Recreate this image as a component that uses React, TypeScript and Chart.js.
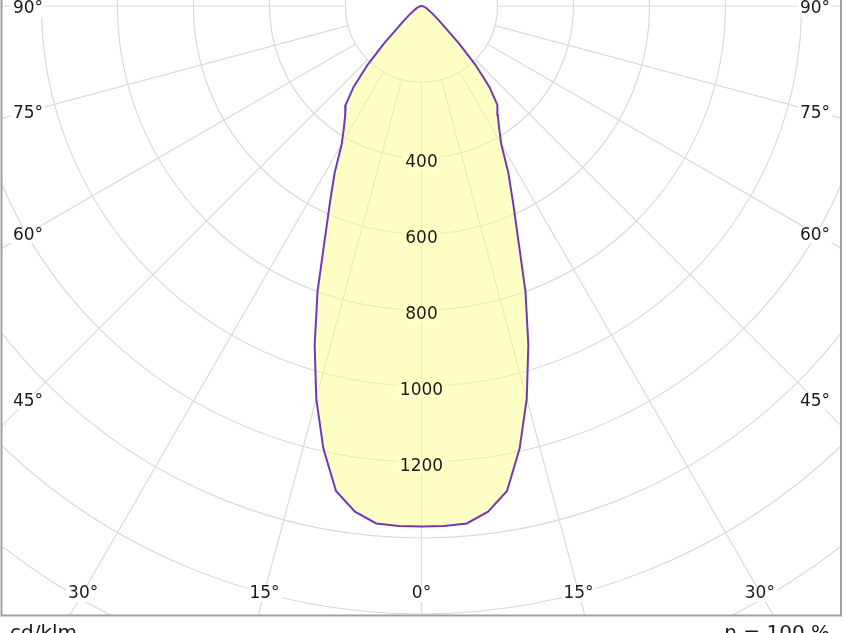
import React, { useEffect, useRef } from "react";
import { Chart, registerables } from "chart.js";

Chart.register(...registerables);

// Luminous intensity (cd/klm) vs angle from nadir (degrees), symmetric C-plane
const angles = [0, 2.5, 5, 7.5, 10, 12.5, 15, 17.5, 20, 22.5, 25, 27.5, 30, 32.5, 35, 37.5, 40, 42.5, 45, 50, 55, 60, 65, 70, 75, 80, 85, 90];
const intensity = [1370, 1370, 1367, 1342, 1296, 1193, 1070, 935, 800, 665, 570, 495, 420, 380, 350, 328, 278, 210, 140, 62, 36, 22, 15, 10, 6, 4, 2, 0];

const ringValues = [200, 400, 600, 800, 1000, 1200, 1400, 1600, 1800];
const ringLabels = [400, 600, 800, 1000, 1200];
const spokeAngles = [-90, -75, -60, -45, -30, -15, 0, 15, 30, 45, 60, 75, 90];
const unitLabel = "cd/klm";
const efficiencyLabel = "η = 100 %";

const X_HALF = 1106.6;
const Y_MAX = 15.8;
const Y_MIN = -1605.3;

const FONT = "17px 'DejaVu Sans'";
const FOOT_FONT = "20px 'DejaVu Sans'";
const rad = (d: number) => (d * Math.PI) / 180;

const polarPlugin = {
  id: "polarGrid",
  beforeDatasetsDraw(chart: any) {
    const { ctx, chartArea: a, scales } = chart;
    const xs = scales.x, ys = scales.y;
    const cx = xs.getPixelForValue(0);
    const cy = ys.getPixelForValue(0);
    ctx.save();
    ctx.beginPath();
    ctx.rect(a.left, a.top, a.right - a.left, a.bottom - a.top);
    ctx.clip();
    ctx.strokeStyle = "#dadada";
    ctx.lineWidth = 1.2;
    for (const r of ringValues) {
      const rp = xs.getPixelForValue(r) - cx;
      ctx.beginPath();
      ctx.arc(cx, cy, rp, 0, Math.PI * 2);
      ctx.stroke();
    }
    for (const d of spokeAngles) {
      const s = Math.sin(rad(d)), c = Math.cos(rad(d));
      const r0 = ringValues[0], r1 = 5000;
      ctx.beginPath();
      ctx.moveTo(xs.getPixelForValue(r0 * s), ys.getPixelForValue(-r0 * c));
      ctx.lineTo(xs.getPixelForValue(r1 * s), ys.getPixelForValue(-r1 * c));
      ctx.stroke();
    }
    ctx.restore();
  },
  afterDatasetsDraw(chart: any) {
    const { ctx, chartArea: a, scales } = chart;
    const xs = scales.x, ys = scales.y;
    const cx = xs.getPixelForValue(0);
    const cy = ys.getPixelForValue(0);
    ctx.save();
    ctx.font = FONT;
    ctx.textAlign = "center";
    ctx.textBaseline = "middle";
    // ring labels along 0° axis
    for (const r of ringLabels) {
      const py = ys.getPixelForValue(-r) + 5;
      const w = ctx.measureText(String(r)).width;
      ctx.fillStyle = "rgb(255,255,198)";
      ctx.fillRect(cx - w / 2 - 2, py - 8, w + 4, 15);
      ctx.fillStyle = "#1a1a1a";
      ctx.fillText(String(r), cx, py);
    }
    // angle labels
    const left = a.left + 27, right = a.right - 26, bottom = a.bottom - 24;
    const half = Math.min(cx - left, right - cx);
    for (const d of spokeAngles) {
      const s = Math.sin(rad(Math.abs(d))), c = Math.cos(rad(Math.abs(d)));
      let t = Infinity;
      if (c > 1e-6) t = Math.min(t, (bottom - cy) / c);
      if (s > 1e-6) t = Math.min(t, half / s);
      const px = cx + Math.sign(d) * t * s;
      const py = Math.max(cy + t * c, a.top + 7) + 2;
      const txt = Math.abs(d) + "°";
      const w = ctx.measureText(txt).width;
      ctx.fillStyle = "#ffffff";
      ctx.fillRect(px - w / 2 - 2, py - 8, w + 4, 16);
      ctx.fillStyle = "#1a1a1a";
      ctx.fillText(txt, px, py);
    }
    // frame
    ctx.strokeStyle = "#a0a0a0";
    ctx.lineWidth = 2;
    ctx.beginPath();
    ctx.moveTo(a.left + 0.5, a.top);
    ctx.lineTo(a.left + 0.5, a.bottom - 0.5);
    ctx.lineTo(a.right - 1, a.bottom - 0.5);
    ctx.lineTo(a.right - 1, a.top);
    ctx.stroke();
    // bottom texts
    ctx.font = FOOT_FONT;
    ctx.fillStyle = "#1a1a1a";
    ctx.textBaseline = "alphabetic";
    ctx.textAlign = "left";
    ctx.fillText(unitLabel, 10, 639);
    ctx.textAlign = "right";
    ctx.fillText(efficiencyLabel, 830, 639);
    ctx.restore();
  },
};

export default function App() {
  const ref = useRef<HTMLCanvasElement>(null);
  useEffect(() => {
    document.body.style.margin = "0";
    const canvas = ref.current!;
    const pts: { x: number; y: number }[] = [];
    for (let i = angles.length - 1; i >= 0; i--) {
      const t = rad(angles[i]);
      pts.push({ x: -intensity[i] * Math.sin(t), y: -intensity[i] * Math.cos(t) });
    }
    for (let i = 1; i < angles.length; i++) {
      const t = rad(angles[i]);
      pts.push({ x: intensity[i] * Math.sin(t), y: -intensity[i] * Math.cos(t) });
    }
    const chart = new Chart(canvas, {
      type: "scatter",
      data: {
        datasets: [
          {
            data: pts,
            showLine: true,
            fill: "shape" as any,
            tension: 0,
            pointRadius: 0,
            borderColor: "#7238b8",
            borderWidth: 2,
            backgroundColor: "rgba(255,255,150,0.55)",
          },
        ],
      },
      options: {
        animation: false,
        responsive: false,
        devicePixelRatio: 1,
        layout: { padding: { left: 1, right: 2, top: 0, bottom: 17 } },
        scales: {
          x: { type: "linear", display: false, min: -X_HALF, max: X_HALF },
          y: { type: "linear", display: false, min: Y_MIN, max: Y_MAX },
        },
        plugins: { legend: { display: false }, tooltip: { enabled: false } },
        events: [],
      },
      plugins: [polarPlugin],
    });
    return () => chart.destroy();
  }, []);
  return (
    <div style={{ width: 844, height: 633, overflow: "hidden" }}>
      <canvas ref={ref} width={844} height={633} style={{ display: "block", width: 844, height: 633 }} />
    </div>
  );
}
